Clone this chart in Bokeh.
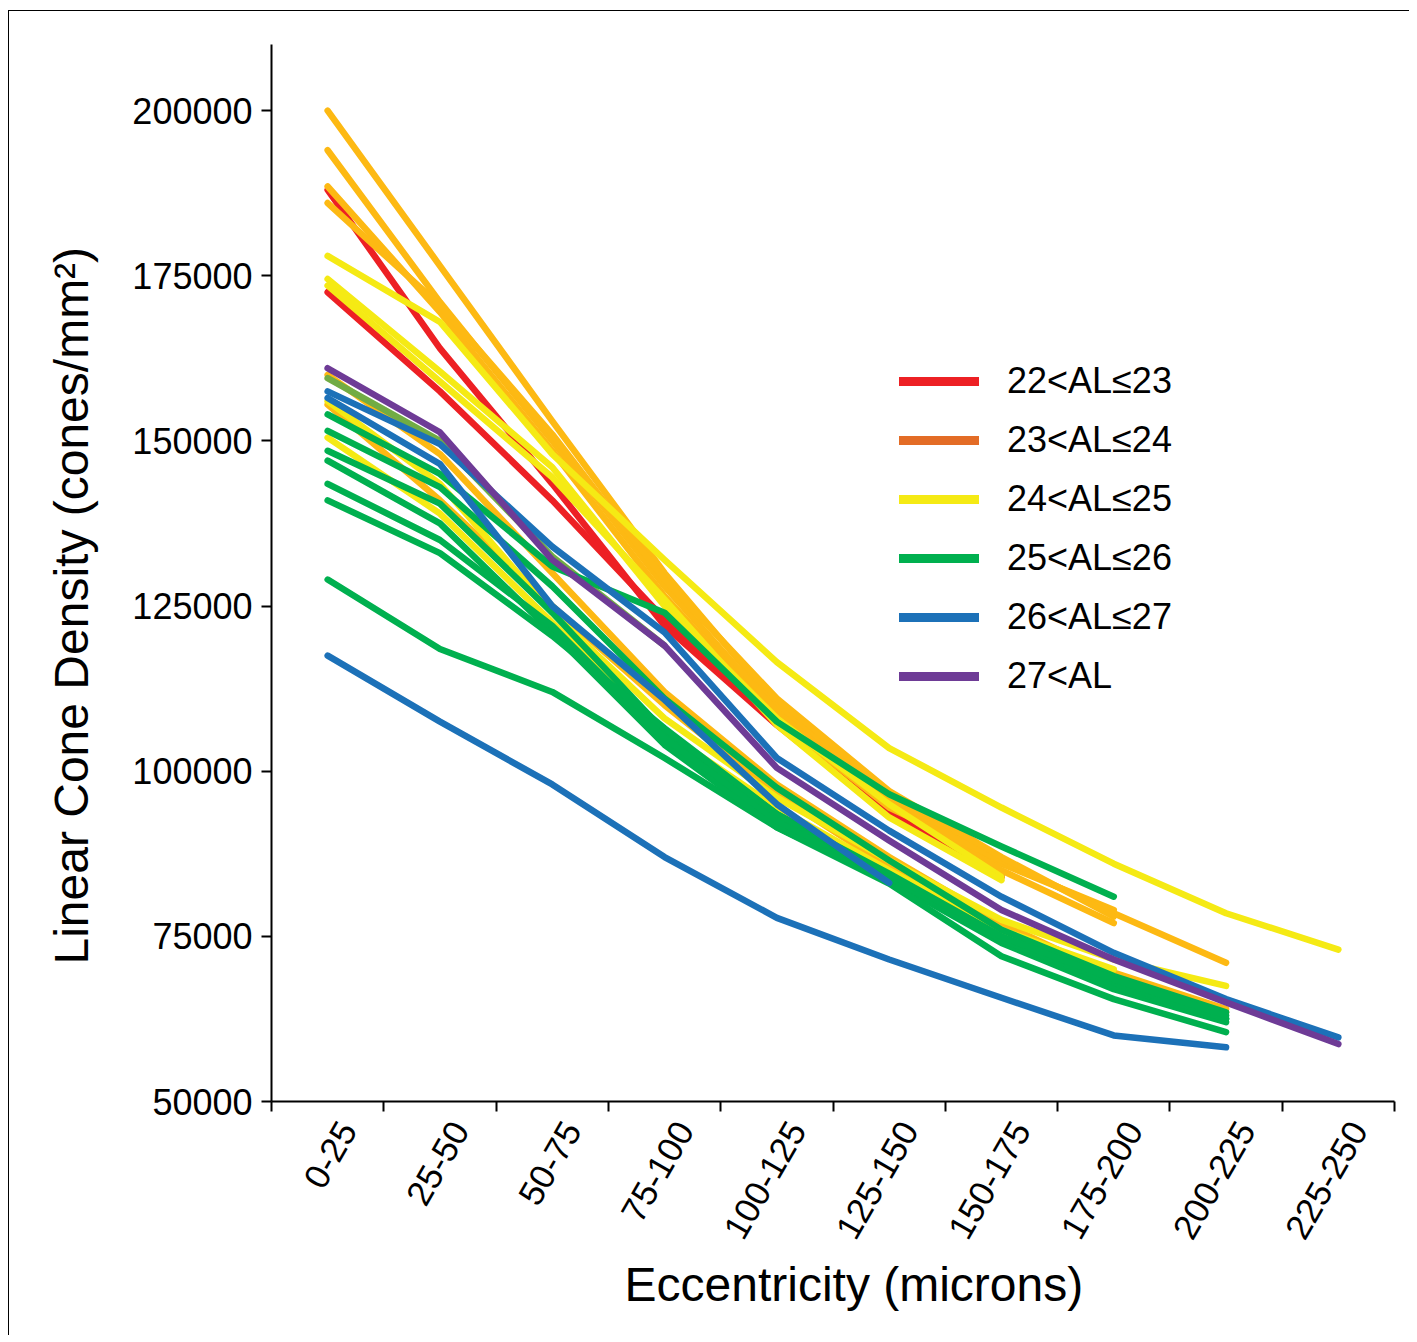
import math
from bokeh.plotting import figure
from bokeh.models import FixedTicker, Legend, LegendItem, Title
from bokeh.embed import file_html
from bokeh.resources import INLINE

categories = ["0-25", "25-50", "50-75", "75-100", "100-125", "125-150",
              "150-175", "175-200", "200-225", "225-250"]
y_ticks = [50000, 75000, 100000, 125000, 150000, 175000, 200000]

# 22<AL<=23
red_1 = [188000, 164000, 143500, 122000, 107000, 93500, 84000]
red_2 = [172500, 157500, 141000, 123000, 107500, 94000, 84000]
# 23<AL<=24
amber_1 = [200000, 176500, 153000, 130000, 110000, 96000, 86000, 79000]
amber_2 = [194000, 171000, 150000, 128000, 109000, 95000, 85000, 77000]
amber_3 = [188500, 169500, 148500, 126500, 108000, 94500, 86500, 78500, 71000]
amber_4 = [186000, 170500, 151000, 129000, 111000, 97000, 87000, 78000]
amber_5 = [160000, 148000, 130000, 112000, 98000, 87000, 77000, 69000, 63500]
amber_6 = [155500, 141000, 125000, 110000, 96500, 85500, 76000, 69500, 64000]
# 24<AL<=25
yellow_1 = [178000, 168000, 148000, 132000, 116500, 103500, 94500, 86000, 78500, 73000]
yellow_2 = [174500, 160500, 146000, 125000, 108000, 95000, 84000]
yellow_3 = [173500, 159000, 144500, 126000, 107000, 93000, 83500]
yellow_4 = [156000, 143500, 124000, 108000, 96000, 86500, 77500, 71500, 67500]
yellow_5 = [150500, 139000, 122500, 106000, 94500, 85000, 76000, 70000]
# 25<AL<=26
green_1 = [154000, 145000, 131000, 124000, 107500, 96500, 88600, 81000]
green_2 = [129000, 118500, 112000, 102000, 91500, 83500, 74000, 67000, 62000]
green_3 = [151500, 143000, 128000, 111000, 97500, 86500, 76000, 69000, 63500]
green_4 = [148500, 140500, 124000, 106000, 93500, 84000, 74500, 67500, 62500]
green_5 = [147000, 137500, 121000, 104000, 91500, 83000, 72000, 65500, 60500]
green_6 = [143500, 135000, 122000, 105000, 92500, 84000, 74500, 68000, 62500]
green_7 = [141000, 133000, 120500, 106500, 93500, 84500, 75000, 68500, 63000]
olive_1 = [159500, 150000, 132500, 119000]
# 26<AL<=27
blue_1 = [117500, 107500, 98000, 87000, 77800, 71500, 65700, 60000, 58200]
blue_2 = [157500, 149500, 134000, 121000, 102000, 91000, 81000, 72500, 65500, 59700]
blue_3 = [156500, 146500, 125000, 110800, 95000, 83100]
# 27<AL
purple_1 = [161000, 151300, 132000, 119000, 100500, 89500, 79000, 71500, 65000, 58700]

legend_labels = ["22<AL\u226423", "23<AL\u226424", "24<AL\u226425",
                 "25<AL\u226426", "26<AL\u226427", "27<AL"]

RED = "#ED2024"
AMBER = "#FDB913"
YELLOW = "#F5EA14"
GREEN = "#00B04F"
OLIVE = "#71AC44"
BLUE = "#1C71B8"
PURPLE = "#6E3B96"
LEG_COLORS = [RED, "#E36C26", YELLOW, GREEN, BLUE, PURPLE]

series = [
    (RED, red_1), (RED, red_2),
    (AMBER, amber_1), (AMBER, amber_2), (AMBER, amber_3), (AMBER, amber_4),
    (AMBER, amber_5), (AMBER, amber_6),
    (YELLOW, yellow_1), (YELLOW, yellow_2), (YELLOW, yellow_3),
    (YELLOW, yellow_4), (YELLOW, yellow_5),
    (OLIVE, olive_1),
    (GREEN, green_2), (GREEN, green_3), (GREEN, green_4), (GREEN, green_5),
    (GREEN, green_6), (GREEN, green_7), (GREEN, green_1),
    (BLUE, blue_1), (BLUE, blue_3), (BLUE, blue_2),
    (PURPLE, purple_1),
]

FONT = "Liberation Sans"

p = figure(width=1401, height=1325, x_range=(0, 10), y_range=(50000, 210000),
           output_backend="svg", toolbar_location=None,
           min_border_left=262, min_border_right=16, min_border_top=33,
           min_border_bottom=235)
p.xgrid.visible = False
p.ygrid.visible = False
p.outline_line_color = None
p.background_fill_color = "white"
p.border_fill_color = "white"

for color, vals in series:
    xs = [i + 0.5 for i in range(len(vals))]
    p.line(xs, vals, line_color=color, line_width=6.5, line_cap="round",
           line_join="round")

# x axis: boundary ticks as minor ticks, labels (no tick marks) near centres
label_shift = 0.18
xa = p.xaxis[0]
xa.ticker = FixedTicker(ticks=[i + 0.5 + label_shift for i in range(len(categories))],
                        minor_ticks=list(range(len(categories) + 1)))
xa.major_label_overrides = {i + 0.5 + label_shift: c for i, c in enumerate(categories)}
xa.major_tick_out = 0
xa.major_tick_in = 0
xa.minor_tick_out = 10
xa.minor_tick_in = 0
xa.minor_tick_line_width = 2
xa.minor_tick_line_color = "black"
xa.axis_line_width = 2
xa.axis_line_color = "black"
xa.major_label_orientation = math.radians(60)
xa.major_label_text_font = FONT
xa.major_label_text_font_size = "35px"
xa.major_label_text_color = "black"
xa.major_label_standoff = 13

ya = p.yaxis[0]
ya.ticker = FixedTicker(ticks=y_ticks, minor_ticks=[])
ya.major_label_overrides = {v: str(v) for v in y_ticks}
ya.major_tick_out = 10
ya.major_tick_in = 0
ya.major_tick_line_width = 2
ya.major_tick_line_color = "black"
ya.axis_line_width = 2
ya.axis_line_color = "black"
ya.major_label_text_font = FONT
ya.major_label_text_font_size = "36px"
ya.major_label_text_color = "black"
ya.major_label_standoff = 9

# axis titles
p.add_layout(Title(text="Eccentricity (microns)", align="left", offset=353,
                   standoff=10, text_font=FONT, text_font_size="48px",
                   text_font_style="normal", text_color="black"), "below")
p.add_layout(Title(text="Linear Cone Density (cones/mm\u00b2)", align="left",
                   offset=137, standoff=64, text_font=FONT,
                   text_font_size="48px", text_font_style="normal",
                   text_color="black"), "left")

# legend
nan = float("nan")
items = []
for lab, col in zip(legend_labels, LEG_COLORS):
    r = p.line([nan], [nan], line_color=col, line_width=9, line_cap="round")
    items.append(LegendItem(label=lab, renderers=[r]))
legend = Legend(items=items, location=(628, 404), glyph_width=80,
                glyph_height=40, label_height=40, spacing=17, padding=0,
                margin=0, label_standoff=28, border_line_color=None,
                background_fill_alpha=0, label_text_font=FONT,
                label_text_font_size="36px", label_text_color="black",
                label_text_baseline="middle")
p.add_layout(legend)

p.styles = {"border-left": "1px solid black", "border-top": "1px solid black",
            "margin-left": "8px", "margin-top": "10px"}

open("out.html", "w").write(file_html(p, INLINE))
